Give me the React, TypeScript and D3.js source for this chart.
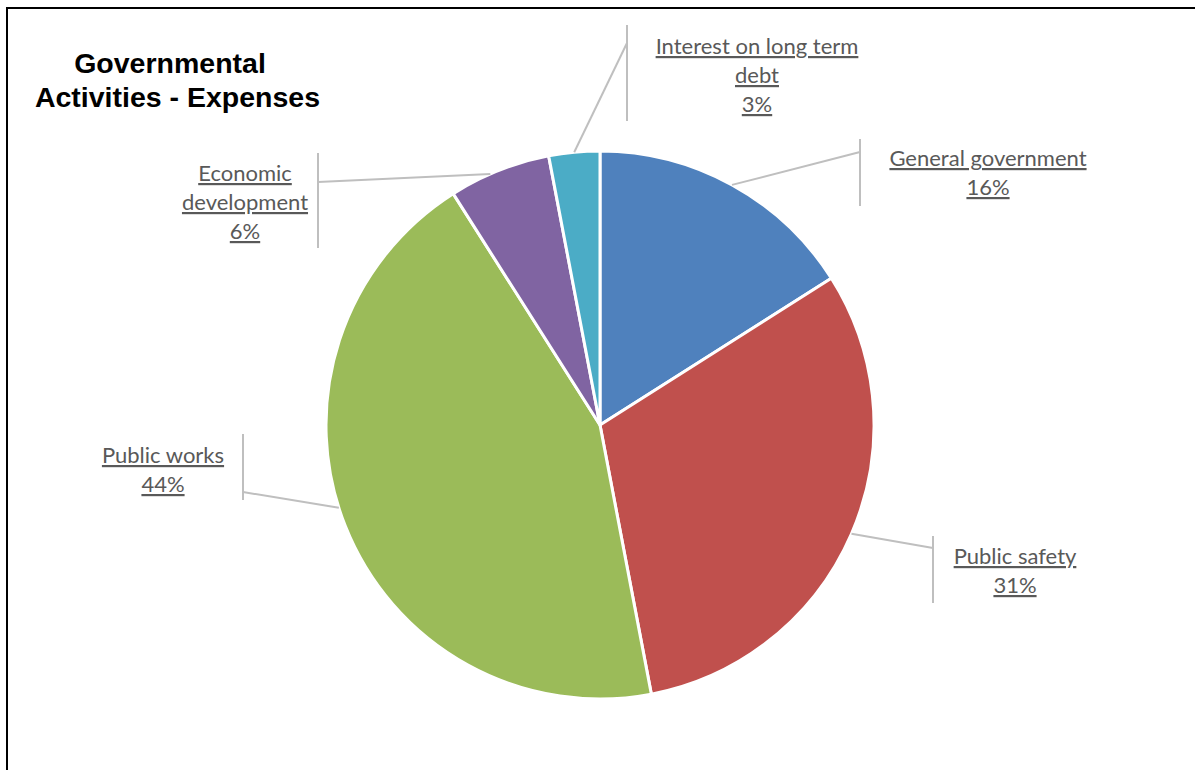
import React from "react";
import * as d3 from "d3";

const categories = ["General government", "Public safety", "Public works", "Economic development", "Interest on long term debt"];
const values = [16, 31, 44, 6, 3];
const colors = ["#4F81BD", "#C0504D", "#9BBB59", "#8064A2", "#4BACC6"];
const labelLines = [
  ["General government", "16%"],
  ["Public safety", "31%"],
  ["Public works", "44%"],
  ["Economic", "development", "6%"],
  ["Interest on long term", "debt", "3%"],
];
const titleLines = ["Governmental", "Activities - Expenses"];

// layout of labels: text center x, first baseline y, bracket x, bracket y range, elbow y, angle offset (deg)
const labelLayout = [
  { tx: 988, ty: 166, bx: 860, by0: 139, by1: 206, ey: 152, off: 0 },
  { tx: 1015, ty: 564, bx: 933, by0: 536, by1: 603, ey: 548, off: 0 },
  { tx: 163, ty: 463, bx: 243, by0: 434, by1: 500, ey: 492, off: 4 },
  { tx: 245, ty: 181, bx: 318, by0: 153, by1: 248, ey: 182, off: -2 },
  { tx: 757, ty: 54, bx: 627, by0: 25, by1: 121, ey: 43, off: 0 },
];

const W = 1195, H = 770;
const cx = 600, cy = 425, R = 274;
const lineH = 29;

export default function App() {
  const pie = d3.pie<number>().sort(null).value((d) => d)(values);
  const arc = d3.arc<d3.PieArcDatum<number>>().innerRadius(0).outerRadius(R);
  return (
    <div style={{ position: "absolute", left: 0, top: 0 }}>
      <svg width={W} height={H} style={{ display: "block" }}>
        <rect x={0} y={0} width={W} height={H} fill="#fff" />
        <rect x={7} y={8} width={W + 20} height={H + 20} fill="none" stroke="#000" strokeWidth={2} />
        {titleLines.map((t, i) => (
          <text key={i} x={i === 0 ? 170 : 177.5} y={73 + i * 34} textAnchor="middle"
            fontFamily="Liberation Sans, Arial, sans-serif" fontWeight="bold" fontSize={28.5} fill="#000">{t}</text>
        ))}
        <g transform={`translate(${cx},${cy})`}>
          {pie.map((p, i) => (
            <path key={i} d={arc(p) || ""} fill={colors[i]} stroke="#fff" strokeWidth={3} strokeLinejoin="round" />
          ))}
        </g>
        {pie.map((p, i) => {
          const L = labelLayout[i];
          const a = (p.startAngle + p.endAngle) / 2 + (L.off * Math.PI) / 180;
          const sx = cx + R * Math.sin(a);
          const sy = cy - R * Math.cos(a);
          return (
            <g key={i}>
              <line x1={sx} y1={sy} x2={L.bx} y2={L.ey} stroke="#BFBFBF" strokeWidth={2} />
              <line x1={L.bx} y1={L.by0} x2={L.bx} y2={L.by1} stroke="#BFBFBF" strokeWidth={2} />
              {labelLines[i].map((t, j) => (
                <text key={j} x={L.tx} y={L.ty + j * lineH} textAnchor="middle"
                  fontFamily="Lato, Carlito, sans-serif" fontSize={22} fill="#595959"
                  style={{ textDecoration: "underline" }}>{t}</text>
              ))}
            </g>
          );
        })}
      </svg>
    </div>
  );
}
